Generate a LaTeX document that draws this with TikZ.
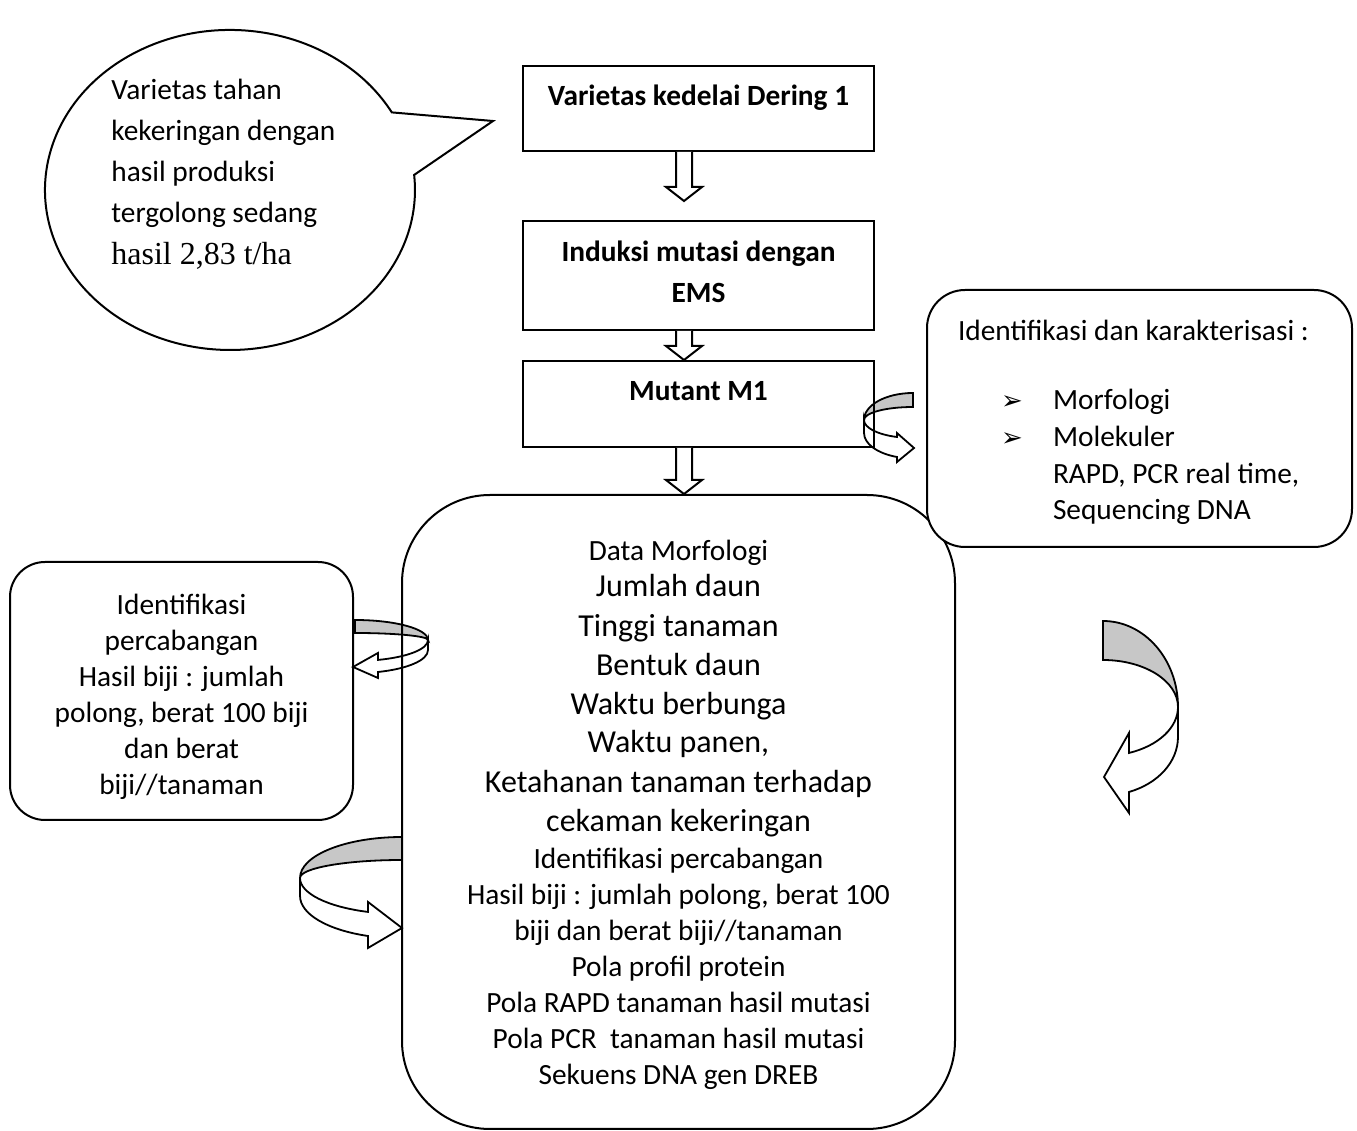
\documentclass[tikz,border=0pt]{standalone}
\usepackage{fontspec}
\setmainfont{Carlito}
\newfontfamily\timesfont{Liberation Serif}
\newfontfamily\symfont{DejaVu Sans}
\usetikzlibrary{calc,positioning}
\newcommand{\largerline}{\fontsize{16}{19.5}\selectfont}
\newcommand{\pointer}{\makebox[26pt][l]{\symfont\fontsize{13}{13}\selectfont ➢}}
\newcommand{\blockarrow}[3]{% from, to, gap before target
    \draw[hollow] ($(#1)+(-22.5,0)$) -- ($(#2)+(-22.5,#3+14)$) -- ($(#2)+(-32.5,#3+14)$)
        -- ($(#2)+(-14.5,#3)$) -- ($(#2)+(3.5,#3+14)$) -- ($(#2)+(-6.5,#3+14)$) -- ($(#1)+(-6.5,0)$);}
\tikzset{
    box/.style={rectangle, draw, line width=1pt, minimum width=175.5pt, align=center,
        font=\bfseries\fontsize{14.67}{20.5}\selectfont},
    roundbox/.style={rectangle, draw, line width=1pt, rounded corners=19pt, align=center,
        font=\fontsize{14.67}{18}\selectfont},
    hollow/.style={draw, line width=1pt, fill=white},
    ribbonback/.style={draw, line width=0.9pt, fill=black!22},
    ribbonfront/.style={draw, line width=0.9pt, fill=white}
}

\begin{document}
\begin{tikzpicture}[x=0.5pt, y=0.5pt]
    \useasboundingbox (0,0) rectangle (1357,1131);

    % curved arrows
    \begin{scope}[shift={(913,738)}, xscale=-1]
        \draw[ribbonback] (0,0) arc[start angle=90, end angle=0, x radius=49, y radius=27]
            arc[start angle=0, end angle=90, x radius=49, y radius=13] -- cycle;
        \draw[ribbonfront] (49,-27) arc[start angle=0, end angle=-70.9, x radius=49, y radius=18]
            -- ++(0,4) -- (-1,-55) -- (16,-69) -- ++(0,5)
            arc[start angle=-70.9, end angle=0, x radius=49, y radius=25.4] -- cycle;
    \end{scope}
    \begin{scope}[shift={(355,511)}]
        \draw[ribbonback] (0,0) arc[start angle=90, end angle=0, x radius=73, y radius=20]
            arc[start angle=0, end angle=90, x radius=73, y radius=7] -- cycle;
        \draw[ribbonfront] (73,-20) arc[start angle=0, end angle=-71.6, x radius=73, y radius=21]
            -- ++(0,7) -- (-2,-47) -- (23,-58) -- ++(0,6)
            arc[start angle=-71.6, end angle=0, x radius=73, y radius=23] -- cycle;
    \end{scope}
    \begin{scope}[shift={(402,294)}, xscale=-1]
        \draw[ribbonback] (0,0) arc[start angle=90, end angle=0, x radius=102, y radius=41]
            arc[start angle=0, end angle=90, x radius=102, y radius=18] -- cycle;
        \draw[ribbonfront] (102,-41) arc[start angle=0, end angle=-70.5, x radius=102, y radius=36]
            -- ++(0,10) -- (0,-91) -- (34,-111) -- ++(0,12)
            arc[start angle=-70.5, end angle=0, x radius=102, y radius=42.4] -- cycle;
    \end{scope}
    \begin{scope}[shift={(1103,510)}]
        \draw[ribbonback] (0,0) arc[start angle=90, end angle=0, x radius=75, y radius=86]
            arc[start angle=0, end angle=90, x radius=75, y radius=47] -- cycle;
        \draw[ribbonfront] (75,-86) arc[start angle=0, end angle=-69.7, x radius=75, y radius=49]
            -- ++(0,20) -- (1,-156) -- (26,-192) -- ++(0,21)
            arc[start angle=-69.7, end angle=0, x radius=75, y radius=58.6] -- cycle;
    \end{scope}

    % callout
    \draw[line width=1pt] (391.8,1018.6) arc[start angle=29, end angle=365.4, x radius=185, y radius=160]
        -- (493,1010) -- cycle;
    \node[anchor=north west, inner sep=0pt, align=left, font=\fontsize{14.67}{20.5}\selectfont] (note) at (111,1052)
        {Varietas tahan\\ kekeringan dengan\\ hasil produksi\\ tergolong sedang\\[0.5pt]
         {\timesfont\fontsize{16}{20.5}\selectfont hasil 2,83 t/ha}};

    % Nodes
    \node[box, minimum height=42.5pt, text depth=13.75pt] (dering) at (698.5,1022.5) {Varietas kedelai Dering 1};
    \node[box, minimum height=54.5pt, text depth=4pt] (ems) at (698.5,855.5) {Induksi mutasi dengan\\ EMS};
    \node[box, minimum height=43pt, text depth=13.5pt] (mutant) at (698.5,727) {Mutant M1};
    \node[roundbox, rounded corners=44pt, minimum width=276.5pt, minimum height=317pt, text height=275.4pt] (data) at (678.5,319)
        {Data Morfologi\\
         {\largerline Jumlah daun}\\[2pt]
         {\largerline Tinggi tanaman}\\[1.5pt]
         {\largerline Bentuk daun}\\[1.5pt]
         {\largerline Waktu berbunga}\\[1pt]
         {\largerline Waktu panen,}\\[2pt]
         {\largerline Ketahanan tanaman terhadap}\\[1.5pt]
         {\largerline cekaman kekeringan}\\[0.5pt]
         Identifikasi percabangan\\
         Hasil biji : jumlah polong, berat 100\\
         biji dan berat biji//tanaman\\
         Pola profil protein\\
         Pola RAPD tanaman hasil mutasi\\
         Pola PCR~ tanaman hasil mutasi\\
         Sekuens DNA gen DREB};
    \node[roundbox, fill=white, align=flush left, text width=181.5pt, text height=14.4pt,
        minimum width=212.5pt, minimum height=128.5pt,
        font=\fontsize{14.67}{18.3}\selectfont] (karakter) at (1139.5,712.5)
        {Identifikasi dan karakterisasi :\\[16.2pt]
         \hspace*{21.5pt}\pointer Morfologi\\
         \hspace*{21.5pt}\pointer Molekuler\\
         \hspace*{47.5pt}RAPD, PCR real time,\\
         \hspace*{47.5pt}Sequencing DNA};
    \node[roundbox, rounded corners=17.5pt, minimum width=171.5pt, minimum height=129pt, text height=106.4pt] (cabang) at (181.5,440)
        {Identifikasi\\ percabangan\\ Hasil biji : jumlah\\ polong, berat 100 biji\\ dan berat\\ biji//tanaman};
    \coordinate (datatop) at (data.north -| mutant.south);

    % block arrows
    \blockarrow{dering.south}{ems.north}{19}
    \blockarrow{ems.south}{mutant.north}{0}
    \blockarrow{mutant.south}{datatop}{0}
\end{tikzpicture}
\end{document}
